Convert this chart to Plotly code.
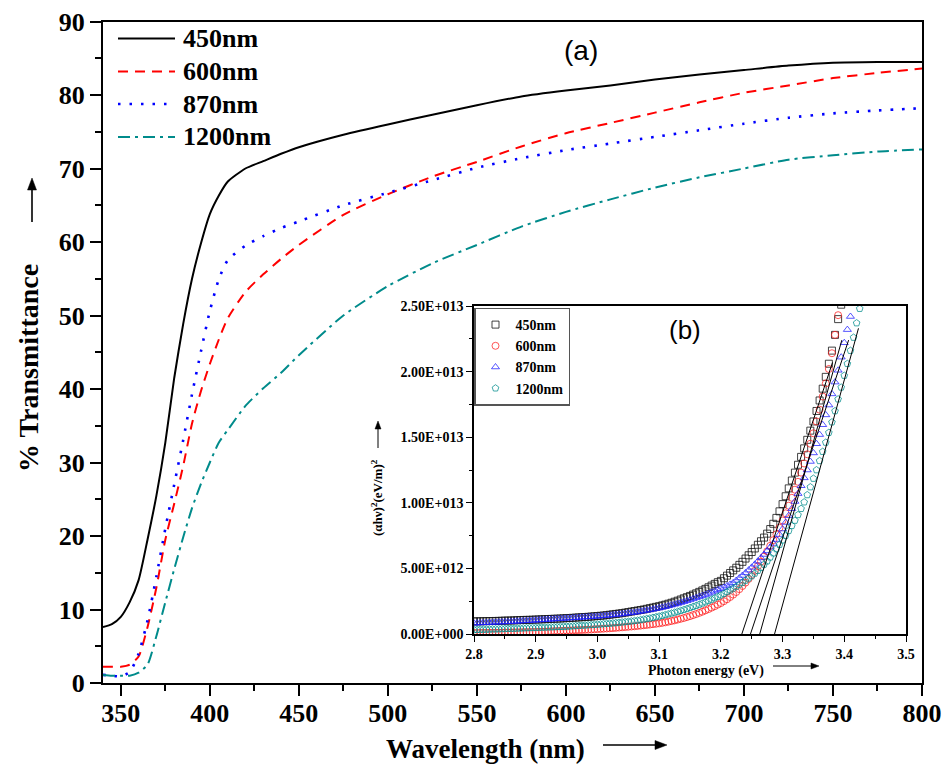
import plotly.graph_objects as go

W, H = 949, 769

# ---------------- (a) transmittance spectra ----------------
series_names = ["450nm", "600nm", "870nm", "1200nm"]

wavelength = [340, 345, 350, 355, 360, 365, 370, 375, 380, 385, 390, 395, 400, 405, 410,
              420, 430, 440, 450, 475, 500, 525, 550, 575, 600, 625, 650, 675, 700, 725,
              750, 775, 800]

trans_450 = [7.6, 8.0, 9.0, 11.0, 14.0, 19.5, 25.5, 32.7, 41.5, 48.8, 55.0, 59.8, 63.8, 66.3, 68.2,
             70.0, 71.0, 72.0, 72.9, 74.6, 76.0, 77.3, 78.6, 79.8, 80.6, 81.3, 82.1, 82.8, 83.4, 84.0,
             84.4, 84.5, 84.5]
trans_600 = [2.2, 2.2, 2.2, 2.5, 3.6, 7.6, 13.0, 19.5, 24.4, 29.5, 35.3, 39.7, 43.4, 46.7, 49.6,
             53.2, 55.6, 57.7, 59.6, 63.7, 66.5, 68.9, 70.9, 73.0, 74.8, 76.2, 77.6, 79.0, 80.3, 81.3,
             82.3, 83.0, 83.6]
trans_870 = [1.1, 1.0, 0.9, 1.5, 4.0, 8.5, 14.5, 21.0, 27.0, 33.0, 39.3, 45.1, 50.6, 54.9, 57.5,
             59.5, 60.8, 61.9, 62.8, 65.0, 66.7, 68.4, 70.1, 71.4, 72.5, 73.4, 74.3, 75.2, 76.1, 76.9,
             77.5, 77.9, 78.2]
trans_1200 = [1.1, 1.0, 1.0, 1.0, 1.4, 2.5, 6.4, 11.0, 15.5, 19.8, 23.8, 27.1, 30.0, 32.7, 34.4,
              37.7, 40.1, 42.2, 44.6, 50.0, 54.0, 57.1, 59.6, 62.1, 64.1, 65.8, 67.4, 68.8, 70.0, 71.2,
              71.8, 72.3, 72.6]
transmittance = [trans_450, trans_600, trans_870, trans_1200]

# ---------------- (b) Tauc plot, values in units of 1E+012 ----------------
photon_energy = [
    2.800, 2.805, 2.810, 2.815, 2.820, 2.825, 2.830, 2.835, 2.840, 2.845,
    2.850, 2.855, 2.860, 2.865, 2.870, 2.875, 2.880, 2.885, 2.890, 2.895,
    2.900, 2.905, 2.910, 2.915, 2.920, 2.925, 2.930, 2.935, 2.940, 2.945,
    2.950, 2.955, 2.960, 2.965, 2.970, 2.975, 2.980, 2.985, 2.990, 2.995,
    3.000, 3.005, 3.010, 3.015, 3.020, 3.025, 3.030, 3.035, 3.040, 3.045,
    3.050, 3.055, 3.060, 3.065, 3.070, 3.075, 3.080, 3.085, 3.090, 3.095,
    3.100, 3.105, 3.110, 3.115, 3.120, 3.125, 3.130, 3.135, 3.140, 3.145,
    3.150, 3.155, 3.160, 3.165, 3.170, 3.175, 3.180, 3.185, 3.190, 3.195,
    3.200, 3.205, 3.210, 3.215, 3.220, 3.225, 3.230, 3.235, 3.240, 3.245,
    3.250, 3.255, 3.260, 3.265, 3.270, 3.275, 3.280, 3.285, 3.290, 3.295,
    3.300, 3.305, 3.310, 3.315, 3.320, 3.325, 3.330, 3.335, 3.340, 3.345,
    3.350, 3.355, 3.360, 3.365, 3.370, 3.375, 3.380, 3.385, 3.390, 3.395,
    3.400, 3.405, 3.410, 3.415, 3.420, 3.425, 3.430,
]

tauc_450 = [
    0.96, 0.965, 0.97, 0.975, 0.98, 0.985, 0.99, 0.995, 1.00, 1.01,
    1.02, 1.025, 1.03, 1.04, 1.05, 1.06, 1.07, 1.075, 1.08, 1.09,
    1.10, 1.11, 1.12, 1.13, 1.14, 1.15, 1.16, 1.17, 1.18, 1.195,
    1.21, 1.22, 1.235, 1.25, 1.265, 1.28, 1.295, 1.31, 1.33, 1.35,
    1.37, 1.39, 1.41, 1.44, 1.47, 1.50, 1.53, 1.56, 1.59, 1.63,
    1.67, 1.71, 1.75, 1.79, 1.83, 1.87, 1.92, 1.97, 2.02, 2.07,
    2.12, 2.18, 2.24, 2.31, 2.38, 2.46, 2.54, 2.63, 2.72, 2.81,
    2.90, 3.00, 3.10, 3.21, 3.32, 3.44, 3.56, 3.69, 3.82, 3.95,
    4.05, 4.25, 4.45, 4.65, 4.85, 5.05, 5.27, 5.50, 5.75, 6.00,
    6.25, 6.52, 6.80, 7.07, 7.35, 7.65, 8.00, 8.40, 8.85, 9.35,
    9.90, 10.5, 11.1, 11.7, 12.3, 12.9, 13.5, 14.15, 14.8, 15.5,
    16.2, 17.0, 17.8, 18.7, 19.6, 20.6, 21.6, 22.8, 24.0, 25.1,
]
tauc_600 = [
    0.08, 0.08, 0.085, 0.09, 0.09, 0.095, 0.10, 0.10, 0.105, 0.11,
    0.115, 0.12, 0.125, 0.13, 0.135, 0.14, 0.145, 0.15, 0.155, 0.16,
    0.165, 0.17, 0.18, 0.19, 0.20, 0.21, 0.22, 0.23, 0.24, 0.25,
    0.26, 0.27, 0.28, 0.29, 0.30, 0.31, 0.32, 0.33, 0.345, 0.36,
    0.375, 0.39, 0.405, 0.42, 0.435, 0.45, 0.47, 0.49, 0.51, 0.53,
    0.55, 0.57, 0.59, 0.615, 0.64, 0.665, 0.69, 0.72, 0.75, 0.78,
    0.81, 0.85, 0.89, 0.94, 0.99, 1.04, 1.10, 1.16, 1.22, 1.29,
    1.36, 1.44, 1.52, 1.61, 1.70, 1.80, 1.90, 2.01, 2.12, 2.24,
    2.36, 2.50, 2.65, 2.82, 3.00, 3.20, 3.42, 3.66, 3.92, 4.20,
    4.50, 4.82, 5.16, 5.52, 5.90, 6.30, 6.72, 7.15, 7.60, 8.10,
    8.65, 9.20, 9.78, 10.38, 11.0, 11.6, 12.3, 13.0, 13.7, 14.5,
    15.3, 16.2, 17.1, 18.1, 19.1, 20.2, 21.4, 22.8, 24.3, 25.8,
]
tauc_870 = [
    0.82, 0.83, 0.84, 0.85, 0.86, 0.87, 0.88, 0.89, 0.90, 0.91,
    0.92, 0.93, 0.94, 0.955, 0.97, 0.985, 1.00, 1.01, 1.02, 1.035,
    1.05, 1.065, 1.08, 1.095, 1.11, 1.125, 1.14, 1.155, 1.17, 1.185,
    1.20, 1.215, 1.23, 1.245, 1.26, 1.275, 1.29, 1.305, 1.32, 1.335,
    1.35, 1.37, 1.39, 1.41, 1.43, 1.455, 1.48, 1.505, 1.53, 1.56,
    1.59, 1.62, 1.65, 1.68, 1.72, 1.76, 1.80, 1.84, 1.88, 1.93,
    1.98, 2.03, 2.08, 2.14, 2.20, 2.26, 2.32, 2.39, 2.46, 2.53,
    2.60, 2.68, 2.76, 2.84, 2.92, 3.00, 3.09, 3.18, 3.27, 3.36,
    3.45, 3.55, 3.66, 3.78, 3.90, 4.08, 4.27, 4.46, 4.66, 4.87,
    5.08, 5.31, 5.55, 5.80, 6.06, 6.33, 6.61, 6.90, 7.20, 7.58,
    8.00, 8.50, 9.02, 9.55, 10.1, 10.7, 11.3, 11.9, 12.5, 13.15,
    13.8, 14.5, 15.2, 15.95, 16.7, 17.45, 18.3, 19.2, 20.1, 21.1,
    22.2, 23.2, 24.2, 25.2,
]
tauc_1200 = [
    0.32, 0.33, 0.34, 0.345, 0.35, 0.36, 0.37, 0.375, 0.38, 0.39,
    0.40, 0.41, 0.415, 0.42, 0.43, 0.44, 0.45, 0.46, 0.47, 0.475,
    0.48, 0.49, 0.50, 0.51, 0.52, 0.53, 0.54, 0.55, 0.56, 0.57,
    0.58, 0.595, 0.61, 0.625, 0.64, 0.655, 0.67, 0.685, 0.70, 0.715,
    0.73, 0.75, 0.77, 0.79, 0.81, 0.83, 0.85, 0.875, 0.90, 0.925,
    0.95, 0.98, 1.01, 1.04, 1.08, 1.12, 1.16, 1.20, 1.25, 1.30,
    1.35, 1.40, 1.46, 1.52, 1.58, 1.64, 1.71, 1.78, 1.85, 1.92,
    2.00, 2.08, 2.16, 2.25, 2.34, 2.43, 2.53, 2.63, 2.74, 2.85,
    2.96, 3.08, 3.21, 3.34, 3.48, 3.62, 3.77, 3.92, 4.08, 4.25,
    4.42, 4.62, 4.83, 5.05, 5.30, 5.55, 5.85, 6.16, 6.48, 6.81,
    7.15, 7.50, 7.87, 8.25, 8.65, 9.08, 9.55, 10.05, 10.6, 11.2,
    11.85, 12.5, 13.2, 13.9, 14.6, 15.35, 16.15, 17.0, 17.9, 18.8,
    19.7, 20.6, 21.6, 22.6, 23.7, 24.8, 25.9,
]
tauc_values = [tauc_450, tauc_600, tauc_870, tauc_1200]
tauc_unit = 1e12

# linear extrapolations to the energy axis (band gap estimates)
fit_intercept_ev = [3.234, 3.263, 3.248, 3.287]
fit_end_ev = [3.381, 3.396, 3.407, 3.423]
fit_end_value = [20.7, 22.4, 22.4, 23.3]

inset_tick_values = [0, 5e12, 1e13, 1.5e13, 2e13, 2.5e13]
inset_tick_labels = ["0.00E+000", "5.00E+012", "1.00E+013", "1.50E+013", "2.00E+013", "2.50E+013"]

# ---------------- styles ----------------
line_styles = [
    dict(color="#000000", width=2.0, dash="solid"),
    dict(color="#ff0000", width=2.0, dash="10px,7px"),
    dict(color="#0000ff", width=2.6, dash="2.5px,9px"),
    dict(color="#008b8b", width=2.0, dash="12px,5px,3px,5px"),
]
marker_styles = [
    dict(symbol="square-open", color="rgba(20,20,20,0.8)"),
    dict(symbol="circle-open", color="rgba(255,30,30,0.75)"),
    dict(symbol="triangle-up-open", color="rgba(30,30,255,0.75)"),
    dict(symbol="pentagon-open", color="rgba(0,140,140,0.75)"),
]

SERIF = "Liberation Serif"
SANS = "Liberation Sans"


def fx(px):
    return px / W


def fy(py):
    return 1 - py / H


fig = go.Figure()

for name, vals, ls in zip(series_names, transmittance, line_styles):
    fig.add_trace(go.Scatter(
        x=wavelength, y=vals, mode="lines", name=name, showlegend=False,
        line=dict(color=ls["color"], width=ls["width"], dash=ls["dash"],
                  shape="spline", smoothing=0.6),
        xaxis="x", yaxis="y",
    ))

for name, vals, ms in zip(series_names, tauc_values, marker_styles):
    fig.add_trace(go.Scatter(
        x=photon_energy[:len(vals)], y=[v * tauc_unit for v in vals],
        mode="markers", name=name, legend="legend2",
        marker=dict(symbol=ms["symbol"], size=7, color=ms["color"],
                    line=dict(width=1, color=ms["color"])),
        xaxis="x2", yaxis="y2",
    ))

for e0, e1, top in zip(fit_intercept_ev, fit_end_ev, fit_end_value):
    fig.add_trace(go.Scatter(
        x=[e0, e1], y=[0, top * tauc_unit], mode="lines", showlegend=False,
        line=dict(color="black", width=1), xaxis="x2", yaxis="y2",
    ))

# hand-drawn legend for panel (a), with longer line samples
shapes = []
annotations = []
legend_rows = [38.5, 71.5, 104, 137]
for name, ls, row in zip(series_names, line_styles, legend_rows):
    shapes.append(dict(type="line", xref="paper", yref="paper",
                       x0=fx(118), x1=fx(175), y0=fy(row), y1=fy(row),
                       line=dict(color=ls["color"], width=ls["width"], dash=ls["dash"])))
    annotations.append(dict(text=name, xref="paper", yref="paper", x=fx(181), y=fy(row),
                            xanchor="left", yanchor="middle", showarrow=False,
                            font=dict(family=SERIF, size=26, color="black", weight="bold")))


def arrow(x0, y0, x1, y1, head_len, half_w, width):
    """Straight arrow from (x0, y0) to the tip (x1, y1), in pixel units."""
    dx, dy = x1 - x0, y1 - y0
    n = (dx * dx + dy * dy) ** 0.5
    ux, uy = dx / n, dy / n
    bx, by = x1 - ux * head_len, y1 - uy * head_len
    px_, py_ = -uy * half_w, ux * half_w
    out = [dict(type="line", xref="paper", yref="paper",
                x0=fx(x0), y0=fy(y0), x1=fx(bx), y1=fy(by),
                line=dict(color="black", width=width))]
    path = (f"M{fx(x1)},{fy(y1)} L{fx(bx + px_)},{fy(by + py_)} "
            f"L{fx(bx - px_)},{fy(by - py_)} Z")
    out.append(dict(type="path", xref="paper", yref="paper", path=path,
                    fillcolor="black", line=dict(color="black", width=0.5)))
    return out


shapes += arrow(32, 222, 32, 178, 12, 4.5, 1.6)      # beside "% Transmittance"
shapes += arrow(603, 745, 667, 745, 12, 4.5, 1.6)    # after "Wavelength (nm)"
shapes += arrow(773, 666, 819, 666, 8, 3, 1)         # after "Photon energy (eV)"
shapes += arrow(378, 448, 378, 421, 8, 3, 1)         # above the inset y title

annotations += [
    dict(text="% Transmittance", xref="paper", yref="paper", x=fx(28), y=fy(368),
         textangle=-90, showarrow=False, xanchor="center", yanchor="middle",
         font=dict(family=SERIF, size=28, color="black", weight="bold")),
    dict(text="Wavelength (nm)", xref="paper", yref="paper", x=fx(486), y=fy(749),
         showarrow=False, xanchor="center", yanchor="middle",
         font=dict(family=SERIF, size=27, color="black", weight="bold")),
    dict(text="(a)", xref="paper", yref="paper", x=fx(581), y=fy(50),
         showarrow=False, xanchor="center", yanchor="middle",
         font=dict(family=SANS, size=28, color="black")),
    dict(text="Photon energy (eV)", xref="paper", yref="paper", x=fx(706), y=fy(671),
         showarrow=False, xanchor="center", yanchor="middle",
         font=dict(family=SERIF, size=14, color="black", weight="bold")),
    dict(text="(αhν)<sup>2</sup>(eV/m)<sup>2</sup>", xref="paper", yref="paper",
         x=fx(377), y=fy(498), textangle=-90, showarrow=False,
         xanchor="center", yanchor="middle",
         font=dict(family=SERIF, size=13, color="black", weight="bold")),
    dict(text="(b)", xref="paper", yref="paper", x=fx(685), y=fy(330),
         showarrow=False, xanchor="center", yanchor="middle",
         font=dict(family=SANS, size=26, color="black")),
]

main_tickfont = dict(family=SERIF, size=26, color="black", weight="bold")
inset_tickfont = dict(family=SERIF, size=14, color="black", weight="bold")

fig.update_layout(
    template="none",
    width=W, height=H,
    margin=dict(l=0, r=0, t=0, b=0, autoexpand=False),
    paper_bgcolor="white", plot_bgcolor="white",
    shapes=shapes, annotations=annotations,
    xaxis=dict(domain=[fx(103), fx(922)], range=[340, 800], anchor="y", automargin=False,
               tick0=350, dtick=50, ticks="outside", ticklen=11, tickwidth=2, tickcolor="black",
               minor=dict(dtick=25, tick0=350, ticks="outside", ticklen=6, tickwidth=2, tickcolor="black"),
               showline=True, linewidth=2, linecolor="black", mirror=True, ticklabelstandoff=-5,
               showgrid=False, zeroline=False, tickfont=main_tickfont),
    yaxis=dict(domain=[fy(683), fy(21.5)], range=[0, 90], anchor="x", automargin=False,
               tick0=0, dtick=10, ticks="outside", ticklen=11, tickwidth=2, tickcolor="black",
               minor=dict(dtick=5, tick0=0, ticks="outside", ticklen=6, tickwidth=2, tickcolor="black"),
               showline=True, linewidth=2, linecolor="black", mirror=True,
               showgrid=False, zeroline=False, tickfont=main_tickfont),
    xaxis2=dict(domain=[fx(474), fx(906)], range=[2.8, 3.5], anchor="y2", automargin=False,
                tick0=2.8, dtick=0.1, tickformat=".1f",
                ticks="outside", ticklen=6, tickwidth=1.2, tickcolor="black",
                minor=dict(dtick=0.05, tick0=2.8, ticks="outside", ticklen=3, tickwidth=1.2, tickcolor="black"),
                showline=True, linewidth=1.5, linecolor="black", mirror=True,
                showgrid=False, zeroline=False, tickfont=inset_tickfont),
    yaxis2=dict(domain=[fy(634), fy(306)], range=[0, 2.5e13], anchor="x2", automargin=False,
                tickmode="array", tickvals=inset_tick_values, ticktext=inset_tick_labels,
                ticks="outside", ticklen=6, tickwidth=1.2, tickcolor="black",
                minor=dict(tickmode="linear", tick0=0, dtick=2.5e12, ticks="outside",
                           ticklen=3, tickwidth=1.2, tickcolor="black"),
                showline=True, linewidth=1.5, linecolor="black", mirror=True,
                showgrid=False, zeroline=False, tickfont=inset_tickfont),
    legend2=dict(x=fx(474), y=fy(307.5), xanchor="left", yanchor="top",
                 bgcolor="white", bordercolor="#555555", borderwidth=1.5,
                 font=dict(family=SERIF, size=14, color="black", weight="bold"),
                 tracegroupgap=0, itemwidth=30),
)

fig.write_html("out.html")
